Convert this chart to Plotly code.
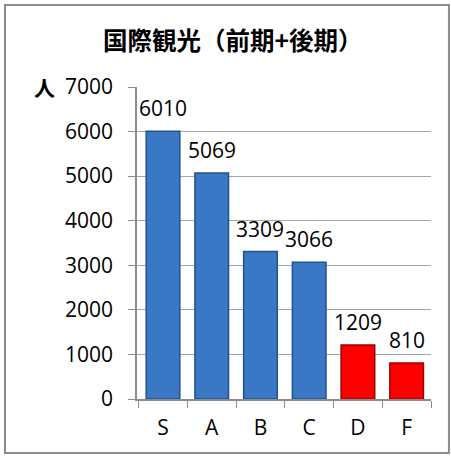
import plotly.graph_objects as go

grades = ["S", "A", "B", "C", "D", "F"]
counts = [6010, 5069, 3309, 3066, 1209, 810]
bar_colors = ["#3A78C6", "#3A78C6", "#3A78C6", "#3A78C6", "#FF0000", "#FF0000"]
edge_colors = ["#21528F", "#21528F", "#21528F", "#21528F", "#A00000", "#A00000"]
y_ticks = [0, 1000, 2000, 3000, 4000, 5000, 6000, 7000]

font_main = "Open Sans, Noto Sans CJK JP, sans-serif"

fig = go.Figure(go.Bar(
    x=grades,
    y=counts,
    marker=dict(color=bar_colors, line=dict(color=edge_colors, width=1.5)),
))

# value labels sit a bit higher above the bars than plotly's "outside" text
for g, v in zip(grades, counts):
    fig.add_annotation(x=g, y=v, text=str(v), showarrow=False,
                       yanchor="bottom", yshift=7,
                       font=dict(size=21, color="black", family=font_main))

fig.update_layout(
    width=451, height=459,
    margin=dict(l=137, r=20, t=87, b=60),
    plot_bgcolor="white",
    paper_bgcolor="white",
    showlegend=False,
    bargap=0.31,
    title=dict(text="<b>国際観光（前期+後期）</b>", x=0.516, xanchor="center",
               y=0.91, yanchor="middle",
               font=dict(size=24.5, color="black", family="Noto Sans CJK JP")),
    font=dict(family=font_main, size=21, color="black"),
)

fig.update_yaxes(
    range=[0, 7000], tickvals=y_ticks, showgrid=True, gridcolor="#A6A6A6",
    showline=True, linecolor="#8C8C8C", linewidth=1.5,
    ticks="outside", ticklen=7, tickcolor="#8C8C8C", tickfont=dict(size=21),
    ticklabelstandoff=11, zeroline=False,
)
fig.update_xaxes(
    showline=True, linecolor="#8C8C8C", linewidth=1.5,
    ticks="outside", tickson="boundaries", ticklen=7, tickcolor="#8C8C8C",
    tickfont=dict(size=21), ticklabelstandoff=9,
)

fig.add_annotation(
    text="<b>人</b>", xref="paper", yref="paper", x=-0.313, y=1.0,
    xanchor="center", yanchor="middle",
    showarrow=False, font=dict(size=21, family="Noto Sans CJK JP", color="black"),
)

# outer chart frame
fig.add_shape(type="rect", xref="paper", yref="paper",
              x0=-0.449, x1=1.061, y0=-0.173, y1=1.263,
              line=dict(color="#8C8C8C", width=2), layer="below")

fig.write_html("out.html", config={"displayModeBar": False},
               post_script="document.body.style.margin = '0';")
